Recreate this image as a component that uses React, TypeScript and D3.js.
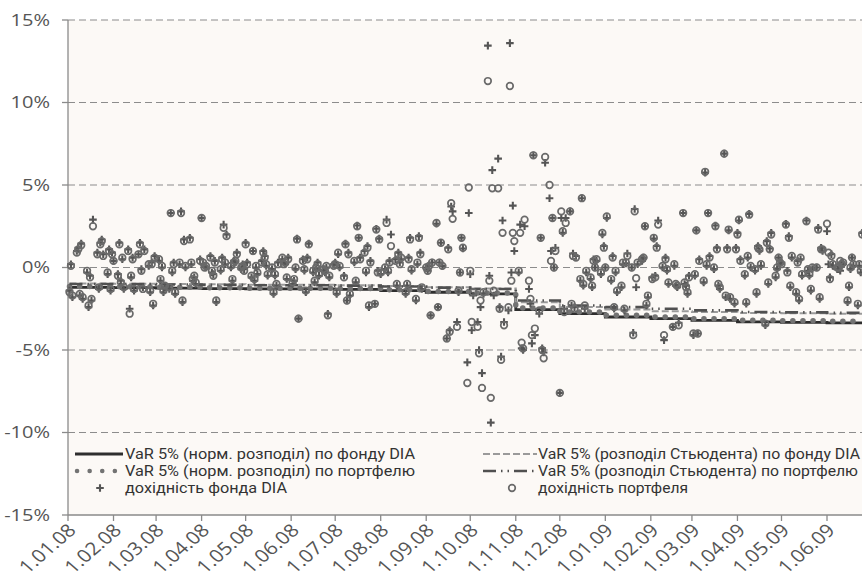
import React, { useRef, useEffect } from 'react';
import * as d3 from 'd3';

// daily returns, % (one row per month, Jan 2008 .. Jun 2009)
const diaReturns: number[][] = [
  [-1.4, 0.2, -1.8, 1.0, 1.2, -1.7, 1.45, -1.9, -0.3, -2.4, -0.5, -2.0, 2.9, 0.9, -1.3, 1.5, 1.7, 0.8, -0.4, 1.1, -1.4, 0.9],
  [0.4, -0.4, 1.5, -0.8, 0.5, -1.3, 1.1, -2.5, -0.6, 0.6, -1.4, 0.8, 1.5, -0.1, -1.2, 1.1, 0.1, -1.5, 0.3, -2.3, 0.7],
  [0.4, -0.8, 0.0, -1.5, -1.2, -1.3, 3.3, -0.3, 0.3, -1.6, 0.2, 3.4, -2.1, 1.7, 0.0, 1.8, 0.2, -0.8, -0.6, -1.0, 0.5],
  [3.0, 0.2, 0.1, 0.0, 0.7, -0.3, -0.4, 0.4, -2.1, -0.2, 0.6, 2.6, 0.2, 2.0, 0.0, -0.8, 0.4, 0.3, 0.9, -0.1, 0.2, -0.1],
  [1.5, 0.3, -0.6, 1.0, -0.8, 0.0, -0.4, 0.4, 1.0, 0.7, 0.1, -0.5, -0.1, -1.6, -0.5, -1.1, 0.3, 0.5, 0.3, 0.2, -0.7, 0.6],
  [-1.0, -0.8, -0.1, 1.75, -3.1, 0.5, -0.2, -1.5, 0.6, 1.45, -0.3, -0.9, -0.1, 0.3, -0.5, -0.2, -0.3, 0.0, -2.8, -0.6, 0.2],
  [0.3, -1.6, 0.8, 0.0, -0.5, 1.45, -2.0, 0.9, -1.7, 0.3, -0.9, 2.55, 1.8, 0.6, 1.0, -0.3, 1.3, -2.4, 0.4, -2.2, 2.35, -0.2, 1.75],
  [-0.4, -0.1, 2.9, -0.3, 0.4, 2.0, 0.5, -1.1, 0.9, 0.3, 0.5, -1.6, -1.1, 0.6, 1.8, -0.2, -2.0, 0.2, 1.9, 0.9, -1.3],
  [0.0, -0.2, 0.1, -2.9, 0.3, 2.65, -2.4, 0.3, 1.5, 0.1, -4.3, 1.2, -3.8, 3.7, 3.4, -3.3, -1.5, -0.3, 1.8, 1.15, -5.75, 3.3],
  [-0.4, -3.8, -1.7, -3.3, -5.0, -2.4, -6.4, -1.6, 13.45, -0.5, -9.4, 5.9, -1.7, 6.6, -2.4, -5.4, 2.85, -3.3, -2.6, 13.6, -0.3, 3.75, 1.0],
  [-0.3, 2.6, -4.9, -5.0, 2.5, -1.3, -2.2, -4.6, 6.8, -4.1, -2.8, 1.8, -4.9, -5.15, 6.35, 4.2, 1.0, 3.0, 0.0, 1.2],
  [-7.6, 3.0, 2.1, -2.5, 3.0, 3.4, -2.3, 0.85, -2.4, 0.7, -0.8, 4.2, -1.1, -2.5, -0.3, -0.7, -1.2, 0.5, 0.0, 0.4, -0.4, 2.0, 1.3],
  [0.0, 3.0, -0.8, 0.7, -2.5, -0.3, -1.5, -1.2, 0.2, -2.6, 0.25, 0.85, 0.0, -3.95, 3.55, -1.2, 0.2, 0.4, 0.6, 2.5, -2.3, -1.8],
  [-0.6, 1.75, -0.5, 1.3, 2.85, 0.0, -4.4, 0.6, -0.2, -1.0, -3.6, 0.1, -1.1, -1.2, -3.35, 3.3, -1.0, -1.1, -1.6, -0.5],
  [-4.1, -0.5, 2.25, -4.0, 0.5, -0.9, 5.75, 0.1, 3.3, 0.7, -0.1, 2.55, 1.2, -1.1, -1.3, 6.9, -1.8, 1.2, 2.25, -1.9, -2.2, 1.2],
  [2.1, 2.85, 0.5, -0.5, -2.2, 0.6, 3.25, 0.0, -0.2, -1.6, 1.3, 1.0, 0.1, -3.5, 1.6, -1.0, 1.15, 2.1, -0.6, -0.1, 0.6, 0.2],
  [0.3, 2.65, -0.2, 1.9, -1.2, 0.6, -1.6, 0.4, -2.0, 0.5, -0.5, 2.85, -0.2, -0.5, -1.4, -0.1, 0.0, 2.4, -1.9, 1.2, 1.0],
  [2.2, 0.2, -0.6, 0.8, 0.1, -0.1, -0.1, -0.2, 0.3, 0.2, -2.1, -1.2, -0.1, 0.6, 0.1, -2.3, 0.1, -0.3, 2.1],
];

const portReturns: number[][] = [
  [-1.5, 0.1, -1.7, 0.9, 1.1, -1.6, 1.35, -1.8, -0.2, -2.3, -0.6, -1.9, 2.5, 0.8, -1.2, 1.4, 1.6, 0.7, -0.3, 1.0, -1.3, 0.8],
  [0.4, -0.5, 1.4, -0.9, 0.6, -1.2, 1.0, -2.8, -0.5, 0.5, -1.3, 0.8, 1.4, -0.2, -1.3, 1.0, 0.2, -1.4, 0.2, -2.2, 0.6],
  [0.5, -0.7, 0.1, -1.4, -1.1, -1.2, 3.3, -0.2, 0.2, -1.5, 0.3, 3.3, -2.0, 1.6, 0.1, 1.7, 0.3, -0.7, -0.5, -0.9, 0.4],
  [3.0, 0.3, 0.0, 0.1, 0.6, -0.2, -0.5, 0.3, -2.0, -0.1, 0.5, 2.4, 0.3, 1.9, 0.1, -0.7, 0.3, 0.4, 0.8, 0.0, 0.1, -0.2],
  [1.4, 0.2, -0.5, 1.0, -0.7, 0.1, -0.3, 0.3, 0.9, 0.6, 0.2, -0.4, 0.0, -1.5, -0.4, -1.0, 0.2, 0.6, 0.2, 0.3, -0.6, 0.5],
  [-0.9, -0.7, 0.0, 1.7, -3.1, 0.4, -0.1, -1.4, 0.5, 1.4, -0.2, -0.8, 0.0, 0.2, -0.4, -0.1, -0.2, 0.1, -2.9, -0.5, 0.1],
  [0.2, -1.5, 0.9, 0.1, -0.6, 1.4, -2.0, 0.8, -1.6, 0.4, -0.8, 2.5, 1.8, 0.5, 0.9, -0.2, 1.2, -2.3, 0.3, -2.2, 2.3, -0.3, 1.7],
  [-0.3, 0.0, 2.7, -0.2, 0.3, 1.3, 0.4, -1.0, 0.8, 0.2, 0.6, -1.5, -1.0, 0.5, 1.7, -0.1, -1.9, 0.3, 1.8, 0.8, -1.2],
  [0.0, -0.2, 0.1, -2.9, 0.3, 2.7, -2.4, 0.3, 1.5, 0.1, -4.3, 1.1, -3.9, 3.9, 2.95, -3.6, -1.4, -0.3, 1.8, 1.2, -7.0, 4.85],
  [-0.2, -3.3, -1.5, -3.6, -5.2, -2.0, -7.3, -1.5, 11.3, -0.8, -7.9, 4.8, -1.4, 4.8, -2.5, -5.6, 2.1, -3.5, -2.4, 11.0, -0.8, 2.1, 1.6],
  [-0.2, 2.1, -4.55, -4.9, 2.9, -0.8, -1.9, -4.1, 6.8, -3.7, -2.6, 1.8, -5.0, -5.5, 6.7, 5.0, 0.4, 3.0, 0.0, 1.0],
  [-7.6, 3.4, 2.2, -2.7, 2.7, 3.4, -2.2, 0.7, -2.5, 0.6, -0.7, 4.2, -1.0, -2.3, -0.2, -0.6, -1.1, 0.4, 0.0, 0.5, -0.3, 2.1, 1.2],
  [0.0, 3.1, -0.7, 0.6, -2.4, -0.2, -1.4, -1.1, 0.3, -2.5, 0.3, 0.7, 0.0, -4.1, 3.4, -0.65, 0.3, 0.5, 0.6, 2.5, -2.2, -1.7],
  [-0.7, 1.8, -0.6, 1.2, 2.6, 0.1, -4.1, 0.5, -0.1, -0.9, -3.6, 0.2, -1.0, -1.1, -3.5, 3.3, -0.9, -1.2, -1.5, -0.6],
  [-4.0, -0.4, 2.25, -4.0, 0.4, -0.8, 5.8, 0.2, 3.3, 0.6, 0.0, 2.5, 1.1, -1.0, -1.2, 6.9, -1.7, 1.1, 2.3, -1.8, -2.1, 1.1],
  [2.0, 2.9, 0.4, -0.4, -2.1, 0.7, 3.2, 0.1, -0.1, -1.5, 1.2, 1.1, 0.2, -3.4, 1.5, -0.9, 1.1, 2.0, -0.5, 0.0, 0.6, 0.3],
  [0.2, 2.6, -0.3, 1.8, -1.1, 0.7, -1.5, 0.3, -1.9, 0.6, -0.4, 2.8, -0.1, -0.4, -1.3, 0.0, 0.0, 2.3, -1.8, 1.1, 1.1],
  [2.65, 0.9, -0.7, 0.7, 0.2, 0.0, 0.0, 0.4, 0.2, 0.3, -2.0, -1.1, 0.0, 0.6, 0.2, -2.2, 0.2, -0.2, 2.0],
];

// monthly VaR 5%, %
const varNormDia = [-1.2, -1.22, -1.25, -1.28, -1.3, -1.3, -1.33, -1.4, -1.5, -1.6, -2.55, -2.8, -3.0, -3.1, -3.2, -3.3, -3.32, -3.35];
const varNormPort = [-1.15, -1.17, -1.2, -1.23, -1.25, -1.25, -1.28, -1.35, -1.45, -1.55, -2.45, -2.7, -2.9, -3.0, -3.1, -3.2, -3.22, -3.25];
const varStudDia = [-0.97, -0.98, -1.0, -1.02, -1.05, -1.05, -1.08, -1.12, -1.2, -1.28, -2.1, -2.4, -2.55, -2.65, -2.7, -2.75, -2.78, -2.8];
const varStudPort = [-1.0, -1.0, -1.03, -1.05, -1.08, -1.08, -1.1, -1.15, -1.22, -1.3, -2.0, -2.3, -2.4, -2.5, -2.6, -2.7, -2.72, -2.75];

const yTicks = [-15, -10, -5, 0, 5, 10, 15];
const legendLabels = [
  'VaR 5% (норм. розподіл) по фонду DIA',
  'VaR 5% (розподіл Стьюдента) по фонду DIA',
  'VaR 5% (норм. розподіл) по портфелю',
  'VaR 5% (розподіл Стьюдента) по портфелю',
  'дохідність фонда DIA',
  'дохідність портфеля',
];
// rendered widths of the legend texts in the reference, px
const legendWidths = [290, 322, 290, 320, 162, 150];

const firstMonth = new Date(2008, 0, 1);
const lastDay = new Date(2009, 5, 25);
const months = d3.timeMonth.range(firstMonth, new Date(2009, 6, 1));

const tradingDays = (m: Date) =>
  d3.timeDay
    .range(m, d3.timeMonth.offset(m, 1))
    .filter(d => d.getDay() % 6 !== 0 && !(d.getMonth() === 0 && d.getDate() === 1 && d.getFullYear() === 2008))
    .filter(d => d <= lastDay);

const toPoints = (rows: number[][]) =>
  months.flatMap((m, i) => {
    const days = tradingDays(m);
    return (rows[i] || []).slice(0, days.length).map((v, j) => ({ date: days[j], v }));
  });

const toSteps = (vals: number[]) => {
  const pts = months.map((m, i) => ({ date: i === 0 ? new Date(2008, 0, 2) : m, v: vals[i] }));
  pts.push({ date: lastDay, v: vals[vals.length - 1] });
  return pts;
};

const W = 862;
const H = 585;
const left = 68;
const top = 20;
const bottom = 515;
const right = 880;
const sx = 1.25; // the reference's text is stretched horizontally
const font = 'Open Sans, sans-serif';

const App = () => {
  const svgRef = useRef<SVGSVGElement>(null);

  useEffect(() => {
    const svg = d3.select(svgRef.current);
    svg.selectAll('*').remove();

    const x = d3.scaleTime().domain([firstMonth, new Date(2009, 5, 1)]).range([left, 827]);
    const y = d3.scaleLinear().domain([-15, 15]).range([bottom, top]);

    svg.append('rect').attr('x', left).attr('y', top).attr('width', right - left).attr('height', bottom - top).attr('fill', '#fcf9f6');

    // grid
    svg.append('g').selectAll('line').data(yTicks.filter(t => t > -15)).enter().append('line')
      .attr('x1', left).attr('x2', right).attr('y1', d => y(d)).attr('y2', d => y(d))
      .attr('stroke', '#8c8c8c').attr('stroke-width', 1.2).attr('stroke-dasharray', '7,4');

    // axes
    svg.append('line').attr('x1', left).attr('x2', left).attr('y1', top).attr('y2', bottom).attr('stroke', '#8a8a8a').attr('stroke-width', 1.3);
    svg.append('line').attr('x1', left).attr('x2', right).attr('y1', bottom).attr('y2', bottom).attr('stroke', '#8a8a8a').attr('stroke-width', 1.3);

    const yAxis = svg.append('g');
    yAxis.selectAll('line').data(yTicks).enter().append('line')
      .attr('x1', left - 6).attr('x2', left).attr('y1', d => y(d)).attr('y2', d => y(d)).attr('stroke', '#8a8a8a').attr('stroke-width', 1.3);
    yAxis.selectAll('text').data(yTicks).enter().append('text')
      .attr('transform', d => `translate(50,${y(d)}) scale(${sx},1)`)
      .attr('dy', '0.35em').attr('text-anchor', 'end')
      .attr('font-family', font).attr('font-size', 16).attr('fill', '#555')
      .text(d => `${d}%`);

    const fmt = d3.timeFormat('%-d.%m.%y');
    const xAxis = svg.append('g');
    xAxis.selectAll('line').data(months).enter().append('line')
      .attr('x1', d => x(d)).attr('x2', d => x(d)).attr('y1', bottom).attr('y2', bottom + 6).attr('stroke', '#8a8a8a').attr('stroke-width', 1.3);
    xAxis.selectAll('text').data(months).enter().append('text')
      .attr('transform', d => `translate(${x(d) + 4},${bottom + 12}) scale(1.15,1) rotate(-45)`)
      .attr('text-anchor', 'end').attr('dy', '0.35em')
      .attr('font-family', font).attr('font-size', 18).attr('fill', '#555')
      .text(d => fmt(d));

    const plot = svg.append('g');
    const line = d3.line<{ date: Date; v: number }>().x(d => x(d.date)).y(d => y(d.v)).curve(d3.curveStepAfter);

    type St = { stroke: string; width: number; dash: string | null; cap: string };
    const styles: Record<string, St> = {
      normDia: { stroke: '#2e2e2e', width: 2.8, dash: null, cap: 'butt' },
      studDia: { stroke: '#9a9a9a', width: 2, dash: '7,3', cap: 'butt' },
      normPort: { stroke: '#737373', width: 5.5, dash: '0.1,10', cap: 'round' },
      studPort: { stroke: '#505050', width: 2.6, dash: '13,5,1.5,5,1.5,5', cap: 'butt' },
    };

    const drawLine = (vals: number[], s: St) => {
      const p = plot.append('path').datum(toSteps(vals)).attr('d', line)
        .attr('fill', 'none').attr('stroke', s.stroke).attr('stroke-width', s.width).attr('stroke-linecap', s.cap);
      if (s.dash) p.attr('stroke-dasharray', s.dash);
    };
    drawLine(varNormDia, styles.normDia);
    drawLine(varStudDia, styles.studDia);
    drawLine(varNormPort, styles.normPort);
    drawLine(varStudPort, styles.studPort);

    const plus = (g: any, cx: number, cy: number) => {
      g.append('path').attr('d', `M${cx - 3.8},${cy}H${cx + 3.8}M${cx},${cy - 3.8}V${cy + 3.8}`)
        .attr('stroke', '#555').attr('stroke-width', 2.1).attr('fill', 'none');
    };
    const ring = (g: any, cx: number, cy: number) => {
      g.append('circle').attr('cx', cx).attr('cy', cy).attr('r', 3.3)
        .attr('fill', 'none').attr('stroke', '#6a6a6a').attr('stroke-width', 1.7);
    };

    const diaPts = toPoints(diaReturns);
    const portPts = toPoints(portReturns);
    const gd = plot.append('g');
    diaPts.forEach(d => plus(gd, x(d.date), y(d.v)));
    const gp = plot.append('g');
    portPts.forEach(d => ring(gp, x(d.date), y(d.v)));

    // legend
    const lg = svg.append('g').attr('font-family', 'Roboto, sans-serif').attr('font-size', 14).attr('fill', '#333');
    const rows = [454, 471, 488];
    const cols = [{ x0: 75, x1: 123, tx: 125 }, { x0: 483, x1: 537, tx: 538 }];
    const lineKeys = [styles.normDia, styles.studDia, { ...styles.normPort, width: 4.5, dash: '0.1,12.5' }, styles.studPort];
    lineKeys.forEach((s, i) => {
      const c = cols[i % 2];
      const ry = rows[Math.floor(i / 2)];
      const l = lg.append('line').attr('x1', c.x0 + (s.cap === 'round' ? 2 : 0)).attr('x2', c.x1).attr('y1', ry).attr('y2', ry)
        .attr('stroke', s.stroke).attr('stroke-width', s.width).attr('stroke-linecap', s.cap);
      if (s.dash) l.attr('stroke-dasharray', s.dash);
    });
    plus(lg, 100, rows[2]);
    ring(lg, 512, rows[2]);
    legendLabels.forEach((t, i) => {
      const c = cols[i % 2];
      lg.append('text').attr('x', c.tx).attr('y', rows[Math.floor(i / 2)]).attr('dy', '0.35em')
        .attr('textLength', legendWidths[i]).attr('lengthAdjust', 'spacingAndGlyphs').text(t);
    });
  }, []);

  return (
    <div style={{ position: 'absolute', left: 0, top: 0, width: W, height: H, overflow: 'hidden', background: '#fff' }}>
      <svg ref={svgRef} width={W} height={H} style={{ display: 'block' }}></svg>
    </div>
  );
};

export default App;
